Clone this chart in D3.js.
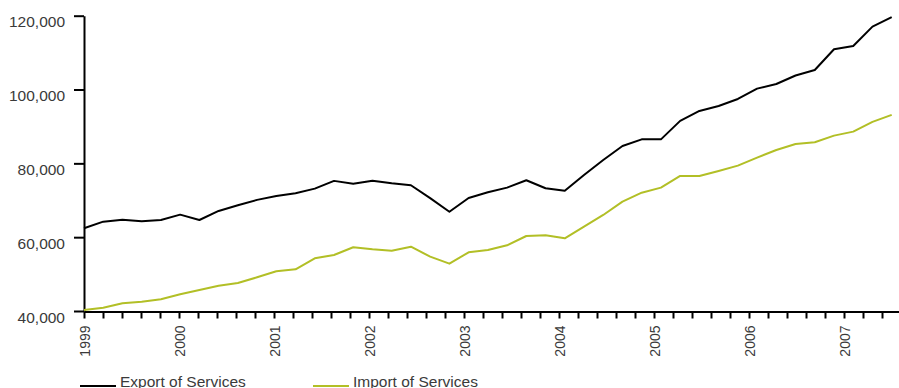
<!DOCTYPE html>
<html>
<head>
<meta charset="utf-8">
<script src="https://d3js.org/d3.v7.min.js"></script>
<style>
  body { margin: 0; background: #fff; }
  svg text { font-family: "Liberation Sans", Arial, sans-serif; fill: #3a3a3a; }
  .axis path, .axis line { stroke: #000; stroke-width: 2px; }
  .line { fill: none; stroke-width: 2px; stroke-linejoin: round; }
</style>
</head>
<body>
<svg width="899" height="388"></svg>
<script>
// values, one point per period
var exportServices = [62400, 64200, 64700, 64300, 64650, 66100, 64650, 67100, 68650, 70100,
  71150, 71900, 73150, 75250, 74500, 75300, 74600, 74060, 70570, 66900,
  70620, 72160, 73420, 75420, 73250, 72600, 76860, 80900, 84700, 86500,
  86500, 91500, 94200, 95550, 97450, 100250, 101500, 103800, 105300, 110900,
  111800, 117050, 119600];
var importServices = [40270, 40900, 42090, 42520, 43170, 44530, 45690, 46860, 47590, 49130,
  50760, 51300, 54280, 55180, 57260, 56720, 56340, 57430, 54720, 52820,
  55900, 56530, 57800, 60320, 60500, 59700, 62850, 66020, 69620, 72060,
  73420, 76590, 76590, 77940, 79380, 81550, 83630, 85260, 85720, 87510,
  88590, 91220, 93120];
var yTicks = [40000, 60000, 80000, 100000, 120000];
var yearLabels = [1999, 2000, 2001, 2002, 2003, 2004, 2005, 2006, 2007];
var seriesNames = ["Export of Services", "Import of Services"];
var seriesColors = ["#000000", "#b2bf26"];

var svg = d3.select("svg");

// scales
var y = d3.scaleLinear().domain([40000, 120000]).range([311, 15.7]);
var xYear = d3.scaleLinear().domain([1999, 1999 + 815 / 95]).range([84, 899]);
var x = d3.scaleLinear().domain([0, exportServices.length - 1]).range([84, 891.7]);

// ticks: five per year
var tickVals = d3.range(0, 43).map(function(k) { return 1999 + k * 0.2; });

// y axis
var yAxis = svg.append("g")
  .attr("class", "axis")
  .attr("transform", "translate(84,0)")
  .call(d3.axisLeft(y).tickValues(yTicks).tickSize(10).tickSizeOuter(0).tickPadding(9)
    .tickFormat(d3.format(",")));
yAxis.selectAll("text")
  .attr("dy", "0.72em")
  .style("font-size", "15.5px");

// x axis
var xAxis = svg.append("g")
  .attr("class", "axis")
  .attr("transform", "translate(0,311.5)")
  .call(d3.axisBottom(xYear).tickValues(tickVals).tickSize(7).tickSizeOuter(0)
    .tickFormat(function(d) {
      var r = Math.round(d);
      return Math.abs(d - r) < 1e-6 && yearLabels.indexOf(r) >= 0 ? r : "";
    }));
xAxis.selectAll("text")
  .attr("transform", "rotate(-90)")
  .attr("x", -14)
  .attr("y", 0)
  .attr("dy", "0.38em")
  .style("text-anchor", "end")
  .style("font-size", "14px");

// lines
var line = d3.line()
  .x(function(d, i) { return x(i); })
  .y(function(d) { return y(d); });

[exportServices, importServices].forEach(function(s, i) {
  svg.append("path")
    .attr("class", "line")
    .attr("d", line(s))
    .style("stroke", seriesColors[i]);
});

// legend
var legendX = [80, 313];
seriesNames.forEach(function(name, i) {
  var lg = svg.append("g").attr("transform", "translate(" + legendX[i] + ",386)");
  lg.append("line")
    .attr("x1", 0).attr("x2", 36)
    .attr("stroke", seriesColors[i])
    .attr("stroke-width", 2);
  lg.append("text")
    .attr("x", 40)
    .attr("y", 1)
    .style("font-size", "15.5px")
    .text(name);
});
</script>
</body>
</html>
